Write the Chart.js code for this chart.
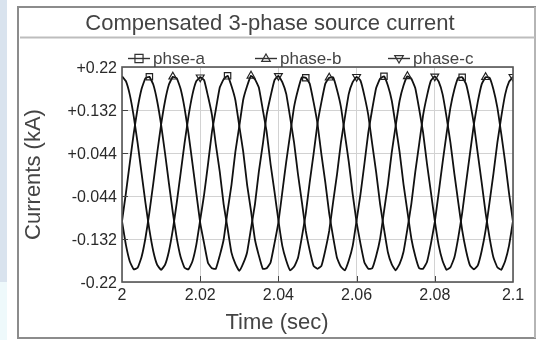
<!DOCTYPE html>
<html><head><meta charset="utf-8">
<script src="https://cdn.jsdelivr.net/npm/chart.js@4.4.1/dist/chart.umd.min.js"></script>
<style>html,body{margin:0;padding:0;background:#fff;overflow:hidden}#wrap{width:538px;height:340px;position:relative}</style>
</head><body><div id="wrap"><canvas id="c" width="538" height="340"></canvas></div>
<script>
const chartTitle = 'Compensated 3-phase source current';
const xAxisTitle = 'Time (sec)';
const yAxisTitle = 'Currents (kA)';
const seriesNames = ['phse-a', 'phase-b', 'phase-c'];

const time = [
2.000,2.001,2.002,2.003,2.004,2.005,2.006,2.007,2.008,2.009,
2.010,2.011,2.012,2.013,2.014,2.015,2.016,2.017,2.018,2.019,
2.020,2.021,2.022,2.023,2.024,2.025,2.026,2.027,2.028,2.029,
2.030,2.031,2.032,2.033,2.034,2.035,2.036,2.037,2.038,2.039,
2.040,2.041,2.042,2.043,2.044,2.045,2.046,2.047,2.048,2.049,
2.050,2.051,2.052,2.053,2.054,2.055,2.056,2.057,2.058,2.059,
2.060,2.061,2.062,2.063,2.064,2.065,2.066,2.067,2.068,2.069,
2.070,2.071,2.072,2.073,2.074,2.075,2.076,2.077,2.078,2.079,
2.080,2.081,2.082,2.083,2.084,2.085,2.086,2.087,2.088,2.089,
2.090,2.091,2.092,2.093,2.094,2.095,2.096,2.097,2.098,2.099,
2.100];

const phaseA = [
-0.096,-0.038,0.024,0.084,0.136,0.175,0.197,0.200,0.184,0.150,0.102,0.044,-0.018,-0.078,-0.130,-0.169,-0.191,-0.194,-0.178,-0.144,
-0.093,-0.041,0.021,0.087,0.133,0.178,0.195,0.202,0.181,0.152,0.099,0.047,-0.021,-0.075,-0.133,-0.166,-0.193,-0.192,-0.180,-0.141,
-0.098,-0.036,0.026,0.082,0.138,0.173,0.199,0.198,0.186,0.148,0.104,0.041,-0.016,-0.080,-0.128,-0.171,-0.189,-0.196,-0.176,-0.146,
-0.094,-0.040,0.022,0.086,0.134,0.177,0.196,0.201,0.182,0.151,0.100,0.046,-0.020,-0.076,-0.131,-0.167,-0.192,-0.193,-0.179,-0.142,
-0.097,-0.037,0.025,0.083,0.137,0.174,0.198,0.199,0.185,0.149,0.103,0.042,-0.017,-0.079,-0.129,-0.170,-0.190,-0.195,-0.177,-0.145,
-0.095];

const phaseB = [
-0.096,-0.144,-0.178,-0.194,-0.191,-0.169,-0.130,-0.078,-0.018,0.044,0.102,0.150,0.184,0.200,0.197,0.175,0.136,0.084,0.024,-0.038,
-0.099,-0.141,-0.181,-0.192,-0.193,-0.166,-0.133,-0.075,-0.021,0.047,0.099,0.153,0.181,0.202,0.195,0.178,0.133,0.087,0.021,-0.035,
-0.094,-0.146,-0.176,-0.196,-0.189,-0.171,-0.128,-0.080,-0.016,0.042,0.104,0.148,0.186,0.198,0.199,0.173,0.138,0.082,0.026,-0.040,
-0.098,-0.142,-0.180,-0.193,-0.192,-0.167,-0.132,-0.076,-0.020,0.046,0.100,0.151,0.182,0.201,0.196,0.177,0.134,0.086,0.022,-0.036,
-0.095,-0.145,-0.177,-0.195,-0.190,-0.170,-0.129,-0.079,-0.017,0.043,0.103,0.149,0.185,0.199,0.198,0.174,0.137,0.083,0.025,-0.039,
-0.097];

const phaseC = [
0.201,0.191,0.163,0.119,0.064,0.003,-0.058,-0.113,-0.157,-0.185,-0.195,-0.185,-0.157,-0.113,-0.058,0.003,0.064,0.119,0.163,0.191,
0.199,0.193,0.160,0.122,0.061,0.006,-0.061,-0.110,-0.160,-0.183,-0.197,-0.182,-0.159,-0.110,-0.061,0.006,0.061,0.122,0.160,0.193,
0.202,0.189,0.165,0.117,0.066,0.001,-0.056,-0.115,-0.155,-0.187,-0.193,-0.187,-0.155,-0.115,-0.056,0.001,0.066,0.117,0.165,0.189,
0.200,0.192,0.161,0.121,0.062,0.005,-0.060,-0.111,-0.159,-0.184,-0.196,-0.183,-0.158,-0.111,-0.060,0.005,0.062,0.121,0.161,0.192,
0.201,0.190,0.164,0.118,0.065,0.002,-0.057,-0.114,-0.156,-0.186,-0.194,-0.186,-0.156,-0.114,-0.057,0.002,0.065,0.118,0.164,0.190,
0.200];

// sample indices where each series shows its marker
const markersA = [7, 27, 47, 67, 87];
const markersB = [13, 33, 53, 73, 93];
const markersC = [20, 40, 60, 80, 100];

const xTicks = [2, 2.02, 2.04, 2.06, 2.08, 2.1];
const xTickLabels = ['2', '2.02', '2.04', '2.06', '2.08', '2.1'];
const yTicks = [-0.22, -0.132, -0.044, 0.044, 0.132, 0.22];
const yTickLabels = ['-0.22', '-0.132', '-0.044', '+0.044', '+0.132', '+0.22'];

const FONT = '"Liberation Sans", Arial, "DejaVu Sans", sans-serif';
const LINE = '#111';

function pts(vals) { return time.map((t, i) => ({x: t, y: vals[i]})); }
function mkDs(label, vals, marks, style, rot) {
  return {
    label, data: pts(vals),
    borderColor: LINE, borderWidth: 1.8, tension: 0.12,
    pointStyle: style, pointRotation: rot,
    pointRadius: ctx => marks.includes(ctx.dataIndex) ? 4.5 : 0,
    pointHoverRadius: 0, pointBorderColor: '#222', pointBorderWidth: 1.2,
    pointBackgroundColor: 'rgba(0,0,0,0)', fill: false
  };
}

function drawMarker(ctx, style, rot, x, y, r) {
  ctx.save();
  ctx.translate(x, y);
  ctx.rotate(rot * Math.PI / 180);
  ctx.beginPath();
  if (style === 'rect') {
    ctx.rect(-r * 0.9, -r * 0.9, r * 1.8, r * 1.8);
  } else {
    ctx.moveTo(0, -r);
    ctx.lineTo(r * 0.95, r * 0.65);
    ctx.lineTo(-r * 0.95, r * 0.65);
    ctx.closePath();
  }
  ctx.strokeStyle = '#333'; ctx.lineWidth = 1.2; ctx.stroke();
  ctx.restore();
}

const decor = {
  id: 'decor',
  beforeDraw(chart) {
    const c = chart.ctx;
    c.save();
    c.fillStyle = '#fff'; c.fillRect(0, 0, 538, 340);
    c.fillStyle = '#d9e3ee'; c.fillRect(0, 0, 7, 282);
    c.fillStyle = '#eef9fb'; c.fillRect(0, 282, 7, 58);
    c.strokeStyle = '#8c8c8c'; c.lineWidth = 2;
    c.beginPath();
    c.moveTo(536, 7); c.lineTo(18, 7); c.lineTo(18, 338); c.lineTo(536, 338);
    c.stroke();
    c.strokeStyle = '#b5b5b5';
    c.beginPath(); c.moveTo(535, 7); c.lineTo(535, 338); c.stroke();
    c.strokeStyle = '#bdbdbd'; c.lineWidth = 2;
    c.beginPath(); c.moveTo(20, 37.5); c.lineTo(535, 37.5); c.stroke();
    c.restore();
  },
  afterDraw(chart) {
    const c = chart.ctx, a = chart.chartArea;
    const xs = chart.scales.x, ys = chart.scales.y;
    c.save();
    c.strokeStyle = '#444'; c.lineWidth = 1;
    yTicks.slice(1, -1).forEach(v => {
      const y = Math.round(ys.getPixelForValue(v)) + 0.5;
      c.beginPath(); c.moveTo(a.left, y); c.lineTo(a.left + 6, y); c.stroke();
    });
    xTicks.slice(1, -1).forEach(v => {
      const x = Math.round(xs.getPixelForValue(v)) + 0.5;
      c.beginPath(); c.moveTo(x, a.bottom); c.lineTo(x, a.bottom - 6); c.stroke();
    });
    c.strokeStyle = '#555'; c.lineWidth = 1.6;
    c.strokeRect(a.left, a.top, a.right - a.left, a.bottom - a.top);
    c.fillStyle = '#444';
    c.font = '22px ' + FONT;
    c.textAlign = 'center'; c.textBaseline = 'alphabetic';
    c.fillText(chartTitle, 270, 30);
    c.fillText(xAxisTitle, 277, 329);
    c.save();
    c.translate(34, (a.top + a.bottom) / 2);
    c.rotate(-Math.PI / 2);
    c.textBaseline = 'middle';
    c.fillText(yAxisTitle, 0, 0);
    c.restore();
    const cols = [128, 255, 388];
    c.font = '17px ' + FONT;
    c.textAlign = 'left'; c.textBaseline = 'alphabetic';
    chart.data.datasets.forEach((ds, i) => {
      const x = cols[i], y = 58.5;
      c.strokeStyle = '#333'; c.lineWidth = 1.4;
      c.beginPath(); c.moveTo(x, y); c.lineTo(x + 22, y); c.stroke();
      drawMarker(c, ds.pointStyle, ds.pointRotation, x + 11, y, 4.5);
      c.fillStyle = '#444';
      c.fillText(ds.label, x + 25, 64);
    });
    c.restore();
  }
};

new Chart(document.getElementById('c'), {
  type: 'line',
  data: {
    datasets: [
      mkDs(seriesNames[0], phaseA, markersA, 'rect', 0),
      mkDs(seriesNames[1], phaseB, markersB, 'triangle', 0),
      mkDs(seriesNames[2], phaseC, markersC, 'triangle', 180)
    ]
  },
  options: {
    responsive: false, animation: false, devicePixelRatio: 1,
    layout: {padding: {left: 0, right: 25, top: 67, bottom: 28}},
    plugins: {legend: {display: false}, title: {display: false}, tooltip: {enabled: false}},
    scales: {
      x: {
        type: 'linear', min: 2, max: 2.1,
        afterBuildTicks: s => { s.ticks = xTicks.map(v => ({value: v})); },
        afterFit: s => { s.height = 30; },
        ticks: {callback: (v, i) => xTickLabels[i], maxRotation: 0, autoSkip: false,
                font: {size: 16, family: FONT}, color: '#2a2a2a', padding: 4},
        grid: {color: '#d2d2d2', drawTicks: false, lineWidth: 1},
        border: {display: false}
      },
      y: {
        type: 'linear', min: -0.22, max: 0.22,
        afterBuildTicks: s => { s.ticks = yTicks.map(v => ({value: v})); },
        afterFit: s => { s.width = 122; },
        ticks: {callback: (v, i) => yTickLabels[i], font: {size: 16, family: FONT},
                color: '#2a2a2a', padding: 5, labelOffset: 2},
        grid: {color: '#d2d2d2', drawTicks: false, lineWidth: 1},
        border: {display: false}
      }
    }
  },
  plugins: [decor]
});
</script></body></html>
